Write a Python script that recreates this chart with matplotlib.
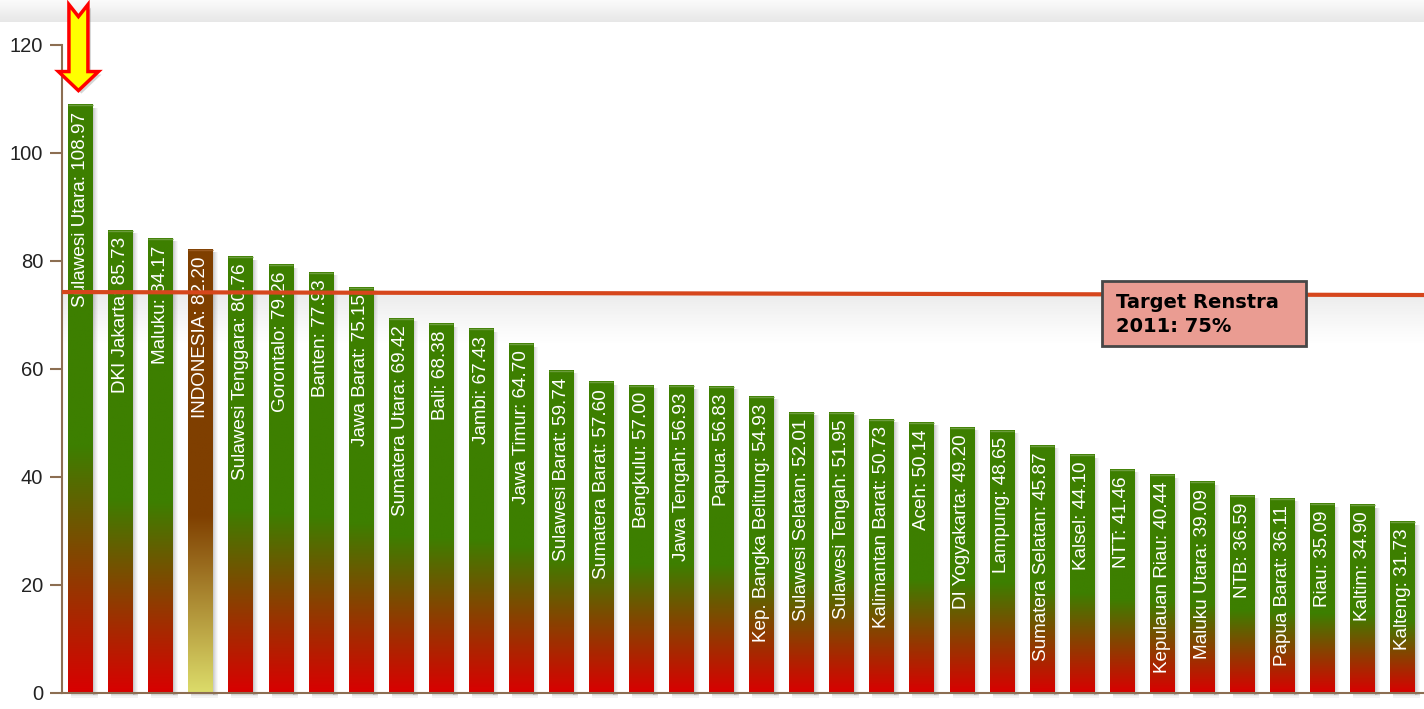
import numpy as np
import matplotlib
matplotlib.use("Agg")
import matplotlib.pyplot as plt
from matplotlib.patches import Rectangle, Polygon
from matplotlib.colors import to_rgb

# ---------------- data ----------------
provinces = ["Sulawesi Utara", "DKI Jakarta", "Maluku", "INDONESIA", "Sulawesi Tenggara",
             "Gorontalo", "Banten", "Jawa Barat", "Sumatera Utara", "Bali", "Jambi",
             "Jawa Timur", "Sulawesi Barat", "Sumatera Barat", "Bengkulu", "Jawa Tengah",
             "Papua", "Kep. Bangka Belitung", "Sulawesi Selatan", "Sulawesi Tengah",
             "Kalimantan Barat", "Aceh", "DI Yogyakarta", "Lampung", "Sumatera Selatan",
             "Kalsel", "NTT", "Kepulauan Riau", "Maluku Utara", "NTB", "Papua Barat",
             "Riau", "Kaltim", "Kalteng"]
values = [108.97, 85.73, 84.17, 82.20, 80.76, 79.26, 77.93, 75.15, 69.42, 68.38, 67.43,
          64.70, 59.74, 57.60, 57.00, 56.93, 56.83, 54.93, 52.01, 51.95, 50.73, 50.14,
          49.20, 48.65, 45.87, 44.10, 41.46, 40.44, 39.09, 36.59, 36.11, 35.09, 34.90, 31.73]
highlight = "INDONESIA"
target_line = [74.25, 73.7]          # red reference line (left end, right end)
target_label = "Target Renstra\n2011: 75%"
yticks = [0, 20, 40, 60, 80, 100, 120]

# ---------------- style ----------------
W, H, DPI = 1424, 709, 100
GREEN = np.array(to_rgb("#3d7f00"))
RED = np.array(to_rgb("#d90000"))
BROWN = np.array(to_rgb("#7f3f00"))
YELLOW = np.array(to_rgb("#dcdc6a"))
AXIS_BROWN = "#8c6e52"
LINE_RED = "#d6461c"

fig = plt.figure(figsize=(W / DPI, H / DPI), dpi=DPI)
fig.patch.set_facecolor("white")

# top grey band
band = fig.add_axes([0, (H - 22) / H, 1, 22 / H])
band.axis("off")
g = np.linspace(0, 1, 50)[:, None]
top_c = np.array(to_rgb("#fbfbfb")); bot_c = np.array(to_rgb("#e7e7e7"))
band_img = (top_c[None, None, :] * (1 - g[..., None]) + bot_c[None, None, :] * g[..., None])
band.imshow(band_img, aspect="auto", extent=[0, 1, 0, 1], origin="upper")
band.set_xlim(0, 1); band.set_ylim(0, 1)

left_px, bottom_px, top_px = 62, 693, 45
ax = fig.add_axes([left_px / W, (H - bottom_px) / H, 1 - left_px / W, (bottom_px - top_px) / H])
ax.patch.set_alpha(0)

n = len(values)
xs = np.arange(n)
xmin, xmax = -0.46, 33.54
ymin, ymax = 0, 120
px_x = (xmax - xmin) / (W - left_px)
px_y = (ymax - ymin) / (bottom_px - top_px)
bw = 0.61

# shadow under the red line
sh_top, sh_bot = target_line[0] - 0.5, target_line[0] - 10.0
t = np.linspace(0, 1, 100)[:, None]
alpha = 0.14 * np.clip(1 - t, 0, 1) ** 1.2
sh = np.zeros((100, 1, 4)); sh[..., :3] = 0.45; sh[..., 3] = alpha
ax.imshow(sh, extent=[xmin, xmax, sh_bot, sh_top], origin="upper", aspect="auto",
          interpolation="bilinear", zorder=0.5)

N = 300
f = np.linspace(0, 1, N)
for x, v, name in zip(xs, values, provinces):
    if name == highlight:
        k = np.clip(f / 0.40, 0, 1)[:, None]
        cols = YELLOW * (1 - k) + BROWN * k
        topcol = "#9a5a20"
    else:
        k = np.clip(f / 0.42, 0, 1)[:, None]
        cols = RED * (1 - k) + GREEN * k
        topcol = "#6b9c3c"
    img = cols[:, None, :]
    # drop shadow
    for i, a in enumerate([0.30, 0.22, 0.15, 0.09, 0.04]):
        ax.add_patch(Rectangle((x + bw / 2 + i * px_x, -2 * px_y), px_x, v - 1 * px_y,
                               facecolor="#555555", alpha=a, lw=0, zorder=1, clip_on=False))
    for j, a in enumerate([0.22, 0.14, 0.07]):
        ax.add_patch(Rectangle((x - bw / 2 + 3 * px_x, -(j + 1) * px_y * 1.5), bw + 2 * px_x,
                               1.5 * px_y, facecolor="#555555", alpha=a, lw=0, zorder=1,
                               clip_on=False))
    ax.imshow(img, extent=[x - bw / 2, x + bw / 2, 0, v], origin="lower", aspect="auto",
              interpolation="bilinear", zorder=2)
    ax.plot([x - bw / 2, x + bw / 2], [v - 0.5 * px_y, v - 0.5 * px_y], color=topcol,
            lw=1, zorder=2.5, solid_capstyle="butt")
    ax.annotate(f"{name}: {v:.2f}", xy=(x, v), xytext=(0, -5), textcoords="offset points",
                rotation=90, ha="center", va="top", color="white", fontsize=13.6,
                family="Liberation Sans", zorder=3)

# target line
ax.plot([xmin, xmax], target_line, color=LINE_RED, lw=3, zorder=5, solid_capstyle="butt")

# target label box
bx0, bx1 = 25.5, 30.6
by0, by1 = 64.3, 76.3
ax.add_patch(Rectangle((bx0, by0), bx1 - bx0, by1 - by0, facecolor="#ea9c92",
                       edgecolor="#474747", lw=2, zorder=7))
ax.text(bx0 + 14 * px_x, (by0 + by1) / 2 - 0.2, target_label, ha="left", va="center",
        fontsize=14, fontweight="bold", family="DejaVu Sans", color="black",
        linespacing=1.3, zorder=8)

# arrow pointing at the top bar
cx = xs[0] - 2 * px_x
tip = values[0] + 14 * px_y
hb = tip + 19 * px_y
top = tip + 86 * px_y
notch = top - 12 * px_y
sw, hw = 9.5 * px_x, 20 * px_x
arrow = [(cx - sw, top), (cx, notch), (cx + sw, top), (cx + sw, hb), (cx + hw, hb),
         (cx, tip), (cx - hw, hb), (cx - sw, hb)]
shadow = [(px + 3 * px_x, py - 3 * px_y) for px, py in arrow]
ax.add_patch(Polygon(shadow, closed=True, facecolor="#777777", alpha=0.3, lw=0,
                     zorder=9, clip_on=False))
ax.add_patch(Polygon(arrow, closed=True, facecolor="#ffff00", edgecolor="#ff0000",
                     lw=2.5, zorder=10, clip_on=False, joinstyle="miter"))

ax.set_xlim(xmin, xmax)
ax.set_ylim(ymin, ymax)
ax.set_yticks(yticks)
ax.set_xticks([])
for s in ["top", "right"]:
    ax.spines[s].set_visible(False)
for s in ["left", "bottom"]:
    ax.spines[s].set_color(AXIS_BROWN)
    ax.spines[s].set_linewidth(1.5)
    ax.spines[s].set_zorder(4)
ax.tick_params(axis="y", length=8.6, width=1.5, color=AXIS_BROWN, labelcolor="#222222",
               labelsize=14.5, pad=5)
for lab in ax.get_yticklabels():
    lab.set_family("Liberation Sans")

fig.savefig("out.png", dpi=DPI)
